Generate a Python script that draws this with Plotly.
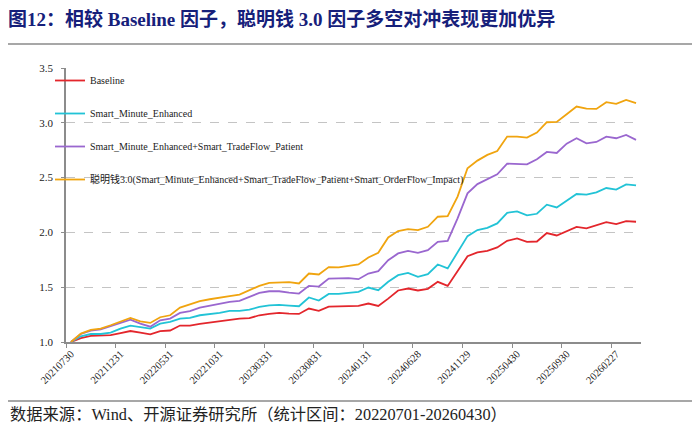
import plotly.graph_objects as go

tick_labels = ["20210730", "20211231", "20220531", "20221031", "20230331", "20230831",
               "20240131", "20240628", "20241129", "20250430", "20250930", "20260227"]

baseline = [1.00, 1.035, 1.055, 1.058, 1.062, 1.08, 1.10, 1.085, 1.07, 1.10,
            1.105, 1.15, 1.15, 1.165, 1.177, 1.189, 1.201, 1.214, 1.217, 1.244,
            1.256, 1.265, 1.259, 1.256, 1.305, 1.284, 1.323, 1.323, 1.323, 1.329,
            1.351, 1.329, 1.396, 1.47, 1.488, 1.47, 1.485, 1.549, 1.512, 1.649,
            1.783, 1.817, 1.832, 1.863, 1.923, 1.945, 1.914, 1.917, 1.994, 1.972,
            2.012, 2.051, 2.036, 2.067, 2.094, 2.076, 2.103, 2.097]

smart_minute = [1.00, 1.052, 1.073, 1.073, 1.086, 1.122, 1.150, 1.137, 1.122, 1.168,
                1.183, 1.214, 1.22, 1.244, 1.253, 1.265, 1.284, 1.284, 1.296, 1.32,
                1.335, 1.338, 1.332, 1.326, 1.406, 1.378, 1.439, 1.439, 1.448, 1.457,
                1.497, 1.473, 1.549, 1.61, 1.631, 1.594, 1.619, 1.707, 1.671, 1.823,
                1.966, 2.021, 2.042, 2.082, 2.179, 2.192, 2.155, 2.17, 2.253, 2.228,
                2.286, 2.35, 2.344, 2.365, 2.405, 2.39, 2.438, 2.429]

smart_minute_tradeflow = [1.00, 1.073, 1.104, 1.116, 1.144, 1.174, 1.204, 1.168, 1.14, 1.198,
                          1.214, 1.265, 1.281, 1.314, 1.332, 1.351, 1.366, 1.375, 1.412, 1.448,
                          1.463, 1.463, 1.451, 1.442, 1.512, 1.506, 1.579, 1.579, 1.582, 1.573,
                          1.625, 1.646, 1.747, 1.808, 1.832, 1.814, 1.838, 1.914, 1.923, 2.128,
                          2.356, 2.441, 2.487, 2.53, 2.627, 2.627, 2.621, 2.667, 2.734, 2.725,
                          2.81, 2.859, 2.813, 2.825, 2.874, 2.859, 2.889, 2.844]

smart_money_30 = [1.00, 1.077, 1.11, 1.122, 1.153, 1.189, 1.22, 1.189, 1.174, 1.226,
                  1.244, 1.314, 1.342, 1.372, 1.39, 1.402, 1.418, 1.433, 1.473, 1.512,
                  1.54, 1.546, 1.546, 1.534, 1.625, 1.616, 1.683, 1.68, 1.692, 1.707,
                  1.771, 1.814, 1.954, 2.012, 2.03, 2.021, 2.051, 2.143, 2.149, 2.326,
                  2.585, 2.655, 2.707, 2.743, 2.874, 2.874, 2.865, 2.911, 3.005, 3.008,
                  3.078, 3.148, 3.13, 3.127, 3.188, 3.173, 3.209, 3.179]

series_names = ["Baseline", "Smart_Minute_Enhanced",
                "Smart_Minute_Enhanced+Smart_TradeFlow_Patient",
                "聪明钱3.0(Smart_Minute_Enhanced+Smart_TradeFlow_Patient+Smart_OrderFlow_Impact)"]
series_values = [baseline, smart_minute, smart_minute_tradeflow, smart_money_30]
series_colors = ["#E3262C", "#22C3D6", "#9A67CF", "#F0A40F"]

x_idx = list(range(len(baseline)))
tick_step = 5

SERIF = "Liberation Serif, Times New Roman, Noto Sans CJK SC"

fig = go.Figure()
for i, (name, vals, col) in enumerate(zip(series_names, series_values, series_colors)):
    fig.add_trace(go.Scatter(x=x_idx, y=vals, mode="lines", name=name,
                             legendgroup=f"g{i}",
                             line=dict(color=col, width=1.8)))

# the page body adds an 8px margin; figure is sized to fill the rest of the window
OFF = 8
W, H = 700 - OFF, 433 - OFF
# plot area in page pixels: x 66..641, y 68..342
L, T = 66 - OFF, 68 - OFF
R = W - (641 - OFF)
B = H - (342 - OFF)
pw, ph = W - L - R, H - T - B

def px_x(p):  # page pixel -> paper x
    return (p - OFF - L) / pw

def px_y(p):  # page pixel -> paper y
    return (H - B - (p - OFF)) / ph

fig.update_layout(
    width=W, height=H,
    margin=dict(l=L, r=R, t=T, b=B),
    paper_bgcolor="white", plot_bgcolor="white",
    font=dict(family=SERIF, size=11, color="#222"),
    title=dict(text="图12：相较 Baseline 因子，聪明钱 3.0 因子多空对冲表现更加优异",
               x=0, xanchor="left", xref="container",
               y=1 - (19 - OFF) / H, yanchor="middle", yref="container",
               font=dict(family="Liberation Serif, Noto Sans CJK SC", size=19,
                         color="#16207A", weight="bold")),
    showlegend=True,
    legend=dict(x=px_x(50), xanchor="left", y=px_y(66), yanchor="top",
                orientation="v", bgcolor="rgba(0,0,0,0)",
                font=dict(family=SERIF, size=10, color="#222"),
                tracegroupgap=14, itemwidth=30),
    xaxis=dict(range=[-0.5, len(baseline) - 0.5],
               tickmode="array",
               tickvals=x_idx[::tick_step],
               ticktext=tick_labels,
               tickangle=-45,
               ticks="",
               showgrid=False, zeroline=False,
               showline=True, linecolor="#8C8C8C", linewidth=1.5,
               tickfont=dict(family=SERIF, size=10.5, color="#222"),
               minor=dict(tickmode="linear", tick0=-0.5, dtick=tick_step,
                          ticks="outside", ticklen=4, tickcolor="#8C8C8C",
                          tickwidth=1, showgrid=False)),
    yaxis=dict(range=[1.0, 3.5], tickmode="linear", tick0=1.0, dtick=0.5,
               tickformat=".1f",
               showgrid=True, gridcolor="#C4C4C4", griddash="dash", gridwidth=1,
               zeroline=False,
               showline=True, linecolor="#8C8C8C", linewidth=1.5,
               ticks="outside", ticklen=3, tickcolor="#8C8C8C",
               ticklabelstandoff=6,
               tickfont=dict(family=SERIF, size=11, color="#222")),
)

# header / footer rules
fig.add_shape(type="line", xref="paper", yref="paper",
              x0=px_x(OFF), x1=px_x(695), y0=px_y(44), y1=px_y(44),
              line=dict(color="#8A8A8A", width=1.5))
fig.add_shape(type="line", xref="paper", yref="paper",
              x0=px_x(OFF), x1=px_x(695), y0=px_y(401), y1=px_y(401),
              line=dict(color="#8A8A8A", width=1.5))

fig.add_annotation(text="数据来源：Wind、开源证券研究所（统计区间：20220701-20260430）",
                   xref="paper", yref="paper", x=px_x(OFF), y=px_y(414),
                   xanchor="left", yanchor="middle", showarrow=False,
                   font=dict(family="Liberation Serif, Noto Sans CJK SC", size=16.3, color="#222"))

fig.write_html("out.html")
